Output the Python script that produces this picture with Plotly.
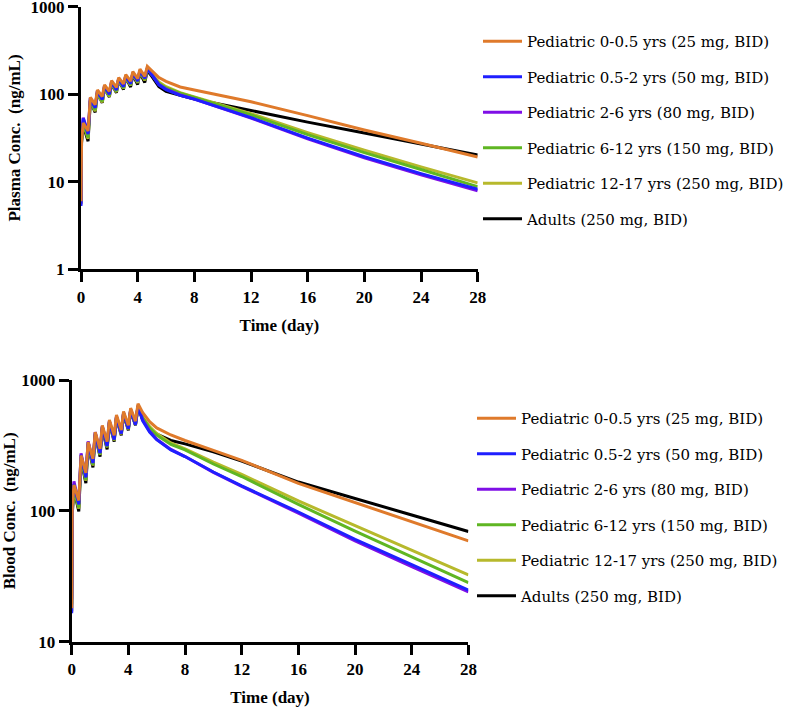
import plotly.graph_objects as go

# common time grid (days)
t = [0, 0.04, 0.16, 0.5, 0.66, 1.0, 1.16, 1.5, 1.66, 2.0, 2.16, 2.5, 2.66, 3.0, 3.16,
     3.5, 3.66, 4.0, 4.16, 4.5, 4.68, 5.0, 5.5, 6, 7, 8, 10, 12, 16, 20, 24, 28]

names = ["Pediatric 0-0.5 yrs (25 mg, BID)", "Pediatric 0.5-2 yrs (50 mg, BID)",
         "Pediatric 2-6 yrs (80 mg, BID)", "Pediatric 6-12 yrs (150 mg, BID)",
         "Pediatric 12-17 yrs (250 mg, BID)", "Adults (250 mg, BID)"]
colors = ["#DF7A2B", "#1F1FFF", "#7F0FE6", "#5FB623", "#B7B92C", "#000000"]

plasma_orange = [6.0, 30, 47, 38, 92, 76, 112, 94, 128, 108, 143, 120, 155, 131, 168, 141,
                 181, 151, 194, 160, 208, 185, 155, 140, 121, 112, 96, 82, 57, 39, 27.5, 19.2]
plasma_blue = [5.3, 33, 53, 35, 90, 70, 109, 87, 124, 100, 139, 112, 151, 122, 163, 132,
               175, 142, 186, 152, 198, 165, 128, 113, 97, 88, 69, 54, 31.5, 19.3, 12.4, 8.2]
plasma_purple = [5.5, 34, 54, 36, 91, 71, 110, 88, 125, 101, 140, 113, 152, 123, 164, 133,
                 176, 143, 188, 153, 200, 167, 129, 114, 98, 88, 69, 53.5, 31, 18.8, 12, 7.9]
plasma_green = [5.6, 31, 48, 32, 86, 66, 105, 83, 120, 96, 135, 108, 147, 118, 159, 128,
                171, 138, 182, 147, 194, 168, 133, 118, 103, 92, 73, 58, 34.5, 21.5, 13.8, 8.8]
plasma_yellow = [5.7, 30, 46, 31, 84, 64, 103, 81, 118, 94, 133, 106, 145, 116, 157, 126,
                 169, 135, 180, 144, 192, 170, 138, 122, 104, 93, 75, 60, 36.5, 23, 14.8, 9.7]
plasma_black = [5.8, 28, 44, 29, 84, 62, 103, 80, 118, 93, 132, 104, 144, 113, 156, 121,
                167, 129, 177, 136, 186, 160, 122, 108, 97, 88, 76, 65, 48, 36, 27, 20.2]

blood_orange = [18, 110, 158, 120, 265, 195, 335, 250, 400, 298, 450, 338, 495, 378, 540, 415,
                575, 450, 610, 485, 660, 565, 480, 430, 380, 345, 290, 243, 162, 116, 83, 59]
blood_blue = [16.5, 115, 160, 112, 268, 180, 335, 232, 395, 276, 440, 312, 483, 350, 525, 390,
              560, 423, 593, 455, 632, 490, 400, 350, 292, 260, 198, 155, 98, 60.5, 38.8, 24.8]
blood_purple = [21, 120, 168, 114, 275, 183, 340, 235, 400, 279, 445, 315, 488, 353, 530, 392,
                565, 425, 598, 458, 640, 500, 405, 352, 295, 260, 197, 154, 96, 59, 37.5, 24.0]
blood_green = [19.5, 102, 150, 106, 255, 172, 325, 225, 388, 270, 435, 308, 478, 348, 520, 388,
               555, 422, 590, 457, 632, 515, 430, 380, 322, 292, 228, 183, 112, 70, 44.5, 28.3]
blood_yellow = [19, 100, 148, 104, 252, 170, 322, 222, 385, 268, 432, 305, 475, 345, 518, 385,
                553, 420, 588, 455, 630, 520, 440, 390, 330, 298, 236, 190, 119, 77, 50, 32.4]
blood_black = [17, 95, 145, 99, 245, 163, 315, 215, 378, 260, 425, 295, 468, 338, 510, 378,
               545, 413, 580, 450, 620, 500, 420, 385, 345, 325, 282, 240, 166, 125, 93, 69.5]

plasma = [plasma_orange, plasma_blue, plasma_purple, plasma_green, plasma_yellow, plasma_black]
blood = [blood_orange, blood_blue, blood_purple, blood_green, blood_yellow, blood_black]

x_ticks = [0, 4, 8, 12, 16, 20, 24, 28]
y1_ticks = [1, 10, 100, 1000]
y2_ticks = [10, 100, 1000]

FONT = "Liberation Serif"
LEGEND_FONT = "DejaVu Serif"

fig = go.Figure()
order = [5, 4, 3, 2, 1, 0]  # black drawn first, orange on top
for i in order:
    fig.add_trace(go.Scatter(x=t, y=plasma[i], mode="lines", name=names[i],
                             line=dict(color=colors[i], width=3),
                             xaxis="x", yaxis="y", legend="legend",
                             legendgroup="p%d" % i, legendrank=i + 1))
for i in order:
    fig.add_trace(go.Scatter(x=t, y=blood[i], mode="lines", name=names[i],
                             line=dict(color=colors[i], width=3),
                             xaxis="x2", yaxis="y2", legend="legend2",
                             legendgroup="b%d" % i, legendrank=i + 1))

tick_font = dict(family=FONT, size=17, color="black", weight="bold")
title_font = dict(family=FONT, size=17, color="black", weight="bold")
axis_common = dict(showline=True, linecolor="black", linewidth=3, ticks="outside",
                   ticklen=10, tickwidth=3, tickcolor="black", showgrid=False,
                   zeroline=False, mirror=False, automargin=False,
                   ticklabeloverflow="allow", tickfont=tick_font)
legend_font = dict(family=LEGEND_FONT, size=15, color="black")

fig.update_layout(
    width=787, height=711,
    margin=dict(l=0, r=0, t=0, b=0, autoexpand=False),
    paper_bgcolor="white", plot_bgcolor="white",
    font=dict(family=FONT, color="black"),
    xaxis=dict(domain=[81 / 787, 477.7 / 787], range=[0, 28], tickvals=x_ticks,
               anchor="y", title=dict(text="Time (day)", font=title_font, standoff=14),
               **axis_common),
    yaxis=dict(domain=[1 - 269.3 / 711, 1 - 6.7 / 711], type="log", range=[0, 3],
               tickvals=y1_ticks, ticktext=[str(v) for v in y1_ticks], anchor="x",
               title=dict(text="Plasma Conc.  (ng/mL)", font=title_font, standoff=6),
               **axis_common),
    xaxis2=dict(domain=[71.7 / 787, 468.4 / 787], range=[0, 28], tickvals=x_ticks,
                anchor="y2", title=dict(text="Time (day)", font=title_font, standoff=14),
                **axis_common),
    yaxis2=dict(domain=[1 - 641.7 / 711, 1 - 380 / 711], type="log", range=[1, 3],
                tickvals=y2_ticks, ticktext=[str(v) for v in y2_ticks], anchor="x2",
                title=dict(text="Blood Conc.  (ng/mL)", font=title_font, standoff=6),
                **axis_common),
    legend=dict(x=478 / 787, y=1 - 25 / 711, xanchor="left", yanchor="top",
                traceorder="grouped", tracegroupgap=13, itemwidth=39,
                bgcolor="rgba(0,0,0,0)", font=legend_font),
    legend2=dict(x=472 / 787, y=1 - 402 / 711, xanchor="left", yanchor="top",
                 traceorder="grouped", tracegroupgap=13, itemwidth=39,
                 bgcolor="rgba(0,0,0,0)", font=legend_font),
    showlegend=True,
)

fig.write_html("out.html", config={"displayModeBar": False},
               post_script="document.body.style.margin='0';")
